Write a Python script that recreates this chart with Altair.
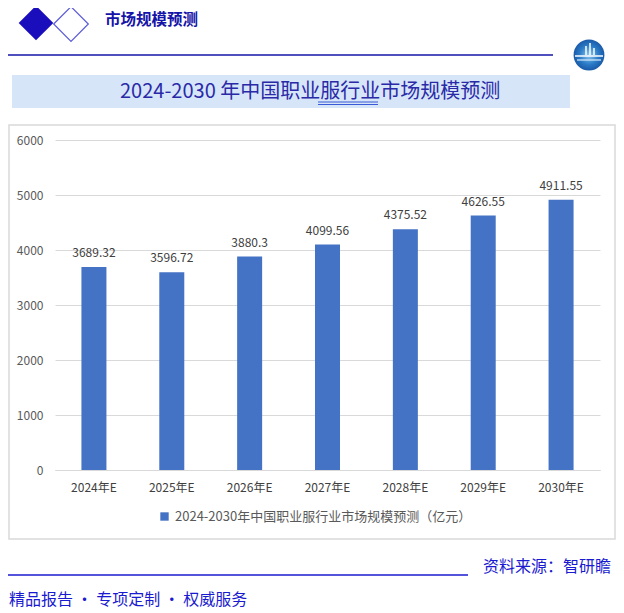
import altair as alt
import pandas as pd

years = ["2024年E", "2025年E", "2026年E", "2027年E", "2028年E", "2029年E", "2030年E"]
values = [3689.32, 3596.72, 3880.3, 4099.56, 4375.52, 4626.55, 4911.55]
value_labels = ["3689.32", "3596.72", "3880.3", "4099.56", "4375.52", "4626.55", "4911.55"]
series_name = "2024-2030年中国职业服行业市场规模预测（亿元）"
y_ticks = [0, 1000, 2000, 3000, 4000, 5000, 6000]

header_text = "市场规模预测"
title_text = "2024-2030 年中国职业服行业市场规模预测"
source_text = "资料来源：智研瞻"
slogan_text = "精品报告 ·  专项定制 · 权威服务"

FONT = "Noto Sans CJK SC"
BLUE_DARK = "#1414a8"
BLUE_TEXT = "#1a1ad0"
BAR = "#4472C4"

df = pd.DataFrame({"year": years, "value": values, "label": value_labels,
                   "series": [series_name] * len(years)})

one = pd.DataFrame({"k": [0]})

def txt(s, x, y, size, color, weight="normal", align="left"):
    return alt.Chart(pd.DataFrame({"t": [s]})).mark_text(
        font=FONT, fontSize=size, color=color, fontWeight=weight,
        align=align, baseline="middle"
    ).encode(x=alt.value(x), y=alt.value(y), text="t:N")

def rule(x1, x2, y1, y2, color, w):
    return alt.Chart(one).mark_rule(color=color, strokeWidth=w).encode(
        x=alt.value(x1), x2=alt.value(x2), y=alt.value(y1), y2=alt.value(y2))

# plot origin at page (55,140); svg starts at page (8,8)
OX, OY = 55, 140

frame = alt.Chart(one).mark_rect(fillOpacity=0, stroke="#d9d9d9", strokeWidth=1.5).encode(
    x=alt.value(9 - OX), x2=alt.value(615 - OX), y=alt.value(125 - OY), y2=alt.value(539 - OY))

title_box = alt.Chart(one).mark_rect(fill="#d6e5f8").encode(
    x=alt.value(12 - OX), x2=alt.value(570 - OX), y=alt.value(75 - OY), y2=alt.value(108 - OY))

diamond_fill = alt.Chart(one).mark_point(shape="diamond", filled=True, fill="#1a0dbb",
                                         opacity=1, size=1200).encode(
    x=alt.value(36 - OX), y=alt.value(23 - OY))
diamond_line = alt.Chart(one).mark_point(shape="diamond", filled=False, stroke="#5a5ad8",
                                         strokeWidth=1.2, opacity=1, size=1200).encode(
    x=alt.value(71 - OX), y=alt.value(24 - OY))

logo = alt.Chart(one).mark_circle(
    size=950, opacity=1,
    color=alt.Gradient(gradient="radial", stops=[
        alt.GradientStop(color="#8cc8f0", offset=0),
        alt.GradientStop(color="#2b7cc8", offset=0.6),
        alt.GradientStop(color="#1a5aa8", offset=1)])
).encode(x=alt.value(589 - OX), y=alt.value(55 - OY))
logo_l1 = rule(575 - OX, 603 - OX, 56 - OY, 56 - OY, "white", 1.5)
logo_l2 = rule(577 - OX, 601 - OX, 60 - OY, 60 - OY, "#d8ecfa", 1.2)
logo_b1 = rule(586 - OX, 586 - OX, 46 - OY, 55 - OY, "white", 1.5)
logo_b2 = rule(590 - OX, 590 - OX, 43 - OY, 55 - OY, "white", 1.5)
logo_b3 = rule(594 - OX, 594 - OX, 48 - OY, 55 - OY, "white", 1.5)

bars = alt.Chart(df).mark_bar(size=25).encode(
    x=alt.X("year:N", sort=years, title=None,
            scale=alt.Scale(paddingInner=0.68, paddingOuter=0.34),
            axis=alt.Axis(labelAngle=0, labelFont=FONT, labelFontSize=12, labelColor="#404040",
                          domainColor="#d9d9d9", ticks=False, labelPadding=12, grid=False)),
    y=alt.Y("value:Q", title=None, scale=alt.Scale(domain=[0, 6000], nice=False),
            axis=alt.Axis(values=y_ticks, format="d", labelFont=FONT, labelFontSize=12,
                          labelColor="#595959", domain=False, ticks=False, labelPadding=12,
                          gridColor="#d9d9d9", gridWidth=1)),
    color=alt.Color("series:N", scale=alt.Scale(range=[BAR]),
                    legend=alt.Legend(title=None, orient="none", legendX=103, legendY=370,
                                      symbolType="square", symbolSize=70, labelFont=FONT,
                                      labelFontSize=13, labelColor="#595959", labelLimit=600,
                                      symbolStrokeWidth=0))
)

labels = alt.Chart(df).mark_text(font=FONT, fontSize=12, color="#404040", dy=-14).encode(
    x=alt.X("year:N", sort=years), y="value:Q", text="label:N")

layers = [
    frame, title_box,
    bars, labels,
    diamond_fill, diamond_line,
    txt(header_text, 105 - OX, 20 - OY, 15.5, BLUE_DARK, weight="bold"),
    rule(8 - OX, 553 - OX, 55 - OY, 55 - OY, BLUE_DARK, 1.5),
    logo, logo_l1, logo_l2, logo_b1, logo_b2, logo_b3,
    txt(title_text, 120 - OX, 92 - OY, 20, "#2a2aa8"),
    rule(318 - OX, 378 - OX, 102 - OY, 102 - OY, "#3a5ad8", 1),
    rule(318 - OX, 378 - OX, 104.5 - OY, 104.5 - OY, "#3a5ad8", 1),
    rule(8 - OX, 468 - OX, 575 - OY, 575 - OY, BLUE_TEXT, 1.5),
    txt(source_text, 483 - OX, 567 - OY, 16, BLUE_TEXT),
    txt(slogan_text, 9 - OX, 600 - OY, 16, BLUE_TEXT),
]

chart = alt.layer(*layers).properties(
    width=545, height=330, autosize="none", background="white",
    padding={"left": 47, "top": 132, "right": 16, "bottom": 141}
).configure_view(strokeWidth=0, stroke="transparent")

chart.save("out.html", embed_options={"renderer": "svg", "actions": False})
